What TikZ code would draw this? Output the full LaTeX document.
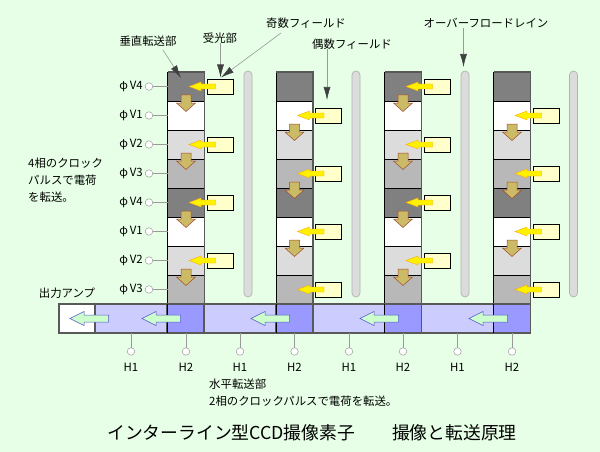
\documentclass[tikz,border=0pt]{standalone}
\usepackage{fontspec}
\setmainfont{Noto Sans CJK JP}
\usetikzlibrary{arrows.meta}
\definecolor{bggreen}{HTML}{E6FFE6}
\definecolor{phaseA}{HTML}{808080}
\definecolor{phaseB}{HTML}{FFFFFF}
\definecolor{phaseC}{HTML}{DCDCDC}
\definecolor{phaseD}{HTML}{B8B8B8}
\definecolor{regLight}{HTML}{CCCCFF}
\definecolor{regDark}{HTML}{9999FF}
\definecolor{sensorFill}{HTML}{FFFFCC}
\definecolor{chargeFill}{HTML}{CCBB66}
\definecolor{chargeEdge}{HTML}{A04A30}
\definecolor{outFill}{HTML}{CCFFCC}
\definecolor{outEdge}{HTML}{5555CC}
\tikzset{
  cell/.style={draw=black, line width=0.9pt, inner sep=0pt, outer sep=0pt, minimum width=36.5pt, minimum height=29pt},
  regcell/.style={draw=black!65, line width=1.3pt, inner sep=0pt, outer sep=0pt, minimum height=29pt},
  sensor/.style={draw=black, line width=0.9pt, fill=sensorFill, inner sep=0pt, minimum width=26pt, minimum height=15pt},
  pin/.style={circle, draw=black!40, fill=white, line width=0.5pt, inner sep=0pt, minimum size=7.5pt},
  pinline/.style={draw=black!40, line width=0.6pt},
  leader/.style={draw=black!40, line width=0.6pt, -{Latex[length=13pt,width=7pt,color=black!75]}},
  txt/.style={inner sep=0pt, font=\fontsize{11.4}{17}\selectfont},
  drain/.pic={\draw[draw=black!30, fill=phaseC, line width=0.7pt, rounded corners=4pt] (-4,0) rectangle (4,226);},
  chargedown/.pic={\draw[draw=chargeEdge, fill=chargeFill, line width=0.5pt]
    (-5,-6) -- (5,-6) -- (5,2) -- (9.5,2) -- (0,10.5) -- (-9.5,2) -- (-5,2) -- cycle;},
  chargeleft/.pic={\draw[draw=orange!70!yellow, fill=yellow, line width=0.4pt]
    (0,0) -- (12,-4.5) -- (12,-2.5) -- (26.5,-2.5) -- (26.5,2.5) -- (12,2.5) -- (12,4.5) -- cycle;},
  chargeout/.pic={\draw[draw=outEdge, fill=outFill, line width=0.5pt]
    (0,0) -- (14,-7) -- (14,-3.5) -- (38.5,-3.5) -- (38.5,3.5) -- (14,3.5) -- (14,7) -- cycle;},
}
\begin{document}
\begin{tikzpicture}[x=1pt,y=-1pt]
  \fill[bggreen] (0,0) rectangle (600,452);
  \useasboundingbox (0,0) rectangle (600,452);
  % vertical registers
  \foreach \col/\cx in {A/186,B/294.5,C/403,D/512} {
    \foreach \i/\shade in {1/phaseA,2/phaseB,3/phaseC,4/phaseD,5/phaseA,6/phaseB,7/phaseC,8/phaseD} {
      \node[cell, fill=\shade] (cell\col\i) at (\cx,{57.5+29*\i}) {};
    }
    \draw[black!65, line width=1.5pt] (cell\col1.north west) -- (cell\col1.north east) -- (cell\col8.south east);
  }
  \foreach \dx in {248,356,465,573.5} {
    \pic at (\dx,71) {drain};
  }
  % horizontal register
  \node[regcell, fill=white, minimum width=36pt] (regOut) at (77,318.5) {};
  \foreach \k/\cl/\cd in {1/131/186,2/240/294.5,3/349/403,4/457.5/512} {
    \node[regcell, fill=regLight, minimum width=72pt] (regL\k) at (\cl,318.5) {};
    \node[regcell, fill=regDark, minimum width=36.5pt] (regD\k) at (\cd,318.5) {};
    \node[pin] (pinL\k) at (\cl,351.5) {};
    \node[pin] (pinD\k) at (\cd,351.5) {};
    \draw[pinline] (regL\k.south) -- (pinL\k);
    \draw[pinline] (regD\k.south) -- (pinD\k);
    \node[txt] (labL\k) at (\cl,367) {H1};
    \node[txt] (labD\k) at (\cd,367) {H2};
  }
  \foreach \k in {1,2,3,4} {
    \draw[black, line width=0.9pt] (regD\k.north west) -- (regD\k.south west);
  }
  % phase pins
  \foreach \i/\name in {1/V4,2/V1,3/V2,4/V3,5/V4,6/V1,7/V2,8/V3} {
    \node[pin] (pinV\i) at (149,{57.5+29*\i}) {};
    \draw[pinline] (pinV\i) -- (cellA\i);
    \node[txt, anchor=east] (labV\i) at (143,{57.5+29*\i}) {φ\hspace{2pt}\name};
  }
  % charge moving down
  \foreach \cx/\py in {186/101,186/159,186/217,186/275,
                       294.5/130,294.5/188,294.5/246,
                       403/101,403/159,403/217,403/275,
                       512/130,512/188,512/246} {
    \pic at (\cx,\py) {chargedown};
  }
  % sensors with their arrows
  \foreach \cx/\py/\nm in {186/86.5/a,186/144.5/b,186/202.5/c,186/260.5/d,
                           294.5/115.5/e,294.5/173.5/f,294.5/231.5/g,294.5/289.5/h,
                           403/86.5/i,403/144.5/j,403/202.5/k,403/260.5/l,
                           512/115.5/m,512/173.5/n,512/231.5/o,512/289.5/p} {
    \node[sensor] (sensor\nm) at ({\cx+34},\py) {};
    \pic at ({\cx+3},\py) {chargeleft};
  }
  % charge moving out
  \foreach \ax in {70,142,251,360,469} {
    \pic at (\ax,318.5) {chargeout};
  }
  % leaders
  \node[txt] (tVert) at (148,41) {垂直転送部};
  \node[txt] (tSens) at (220,38) {受光部};
  \node[txt] (tOdd) at (306,23) {奇数フィールド};
  \node[txt] (tEven) at (352,44) {偶数フィールド};
  \node[txt] (tDrain) at (486,23) {オーバーフロードレイン};
  \coordinate (tipVert) at (181,78);
  \coordinate (tipSens) at (220.5,77.5);
  \coordinate (tipOdd) at (221,77.5);
  \coordinate (tipEven) at (327,100);
  \coordinate (tipDrain) at (463.5,67);
  \draw[leader] (163,50) -- (tipVert);
  \draw[leader] (tSens.south -| tipSens) -- (tipSens);
  \draw[leader] (281,33) -- (tipOdd);
  \draw[leader] (tEven.south -| tipEven) -- (tipEven);
  \draw[leader] (tDrain.south -| tipDrain) -- (tipDrain);
  % captions
  \node[txt, anchor=west, align=left] (tClock) at (28,180) {4相のクロック\\パルスで電荷\\を転送。};
  \node[txt] (tAmp) at (67,293) {出力アンプ};
  \node[txt, anchor=west, align=left] (tHoriz) at (209,392.5) {水平転送部\\2相のクロックパルスで電荷を転送。};
  \node[inner sep=0pt, font=\fontsize{17.8}{20}\selectfont] (tTitle) at (312,433) {インターライン型CCD撮像素子\hspace{37pt}撮像と転送原理};
\end{tikzpicture}
\end{document}
